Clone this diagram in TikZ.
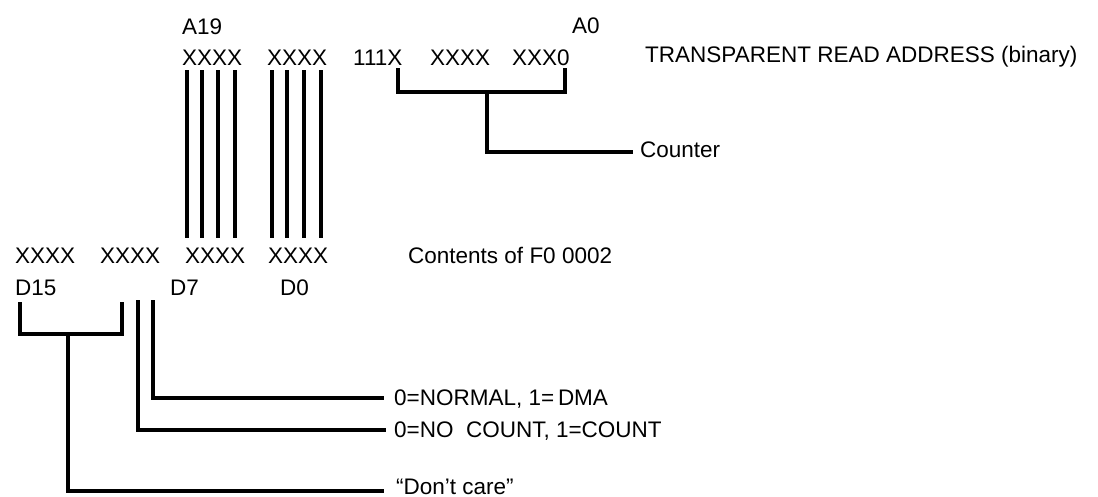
\documentclass[tikz,border=0pt]{standalone}
\usepackage{fontspec}
\setmainfont{Liberation Sans}
\begin{document}
\begin{tikzpicture}[x=1pt,y=-1pt,
  lbl/.style={anchor=base west,inner sep=0pt,font=\fontsize{22.5}{26}\selectfont},
  wire/.style={line width=3.8pt,line join=miter}]
\useasboundingbox (0,0) rectangle (1098,496);
% top address row
\node[lbl] (a19) at (182,34) {A19};
\node[lbl] (a0) at (572,33) {A0};
\node[lbl] (t1) at (182,65) {XXXX};
\node[lbl] (t2) at (267,65) {XXXX};
\node[lbl] (t3) at (353,65) {111X};
\node[lbl] (t4) at (430,65) {XXXX};
\node[lbl] (t5) at (512,65) {XXX0};
\node[lbl] (tra) at (645,62) {TRANSPARENT READ ADDRESS (binary)};
\node[lbl] (cnt) at (640,157) {Counter};
% bottom data row
\node[lbl] (b1) at (15,263) {XXXX};
\node[lbl] (b2) at (100,263) {XXXX};
\node[lbl] (b3) at (185,263) {XXXX};
\node[lbl] (b4) at (268,263) {XXXX};
\node[lbl] (con) at (408,263) {Contents of F0 0002};
\node[lbl] (d15) at (15,295) {D15};
\node[lbl] (d7) at (170,295) {D7};
\node[lbl] (d0) at (280,295) {D0};
\node[lbl] (dma) at (394,405) {0=NORMAL, 1=\,DMA};
\node[lbl] (count) at (394,437) {0=NO\ \ COUNT, 1=COUNT};
\node[lbl] (dc) at (396,494) {``Don't care''};
% vertical bars between rows
\foreach \x in {187,202,218,235,272,287,304,321}
  \draw[wire] (\x,70) -- (\x,238);
% counter bracket
\coordinate (cl) at (398,68);
\coordinate (cr) at (565,68);
\coordinate (ce) at (633,152);
\draw[wire] (cl) -- (398,92) -- (565,92) -- (cr);
\draw[wire] (487,92) -- (487,152) -- (ce);
% don't care bracket
\coordinate (dl) at (20,302);
\coordinate (dr) at (122,302);
\coordinate (de) at (384,491);
\draw[wire] (dl) -- (20,334) -- (122,334) -- (dr);
\draw[wire] (68,334) -- (68,491) -- (de);
% count and dma lines
\coordinate (ct) at (138,300);
\coordinate (ce2) at (386,430);
\coordinate (mt) at (153,300);
\coordinate (me) at (384,398);
\draw[wire] (ct) -- (138,430) -- (ce2);
\draw[wire] (mt) -- (153,398) -- (me);
\end{tikzpicture}
\end{document}
